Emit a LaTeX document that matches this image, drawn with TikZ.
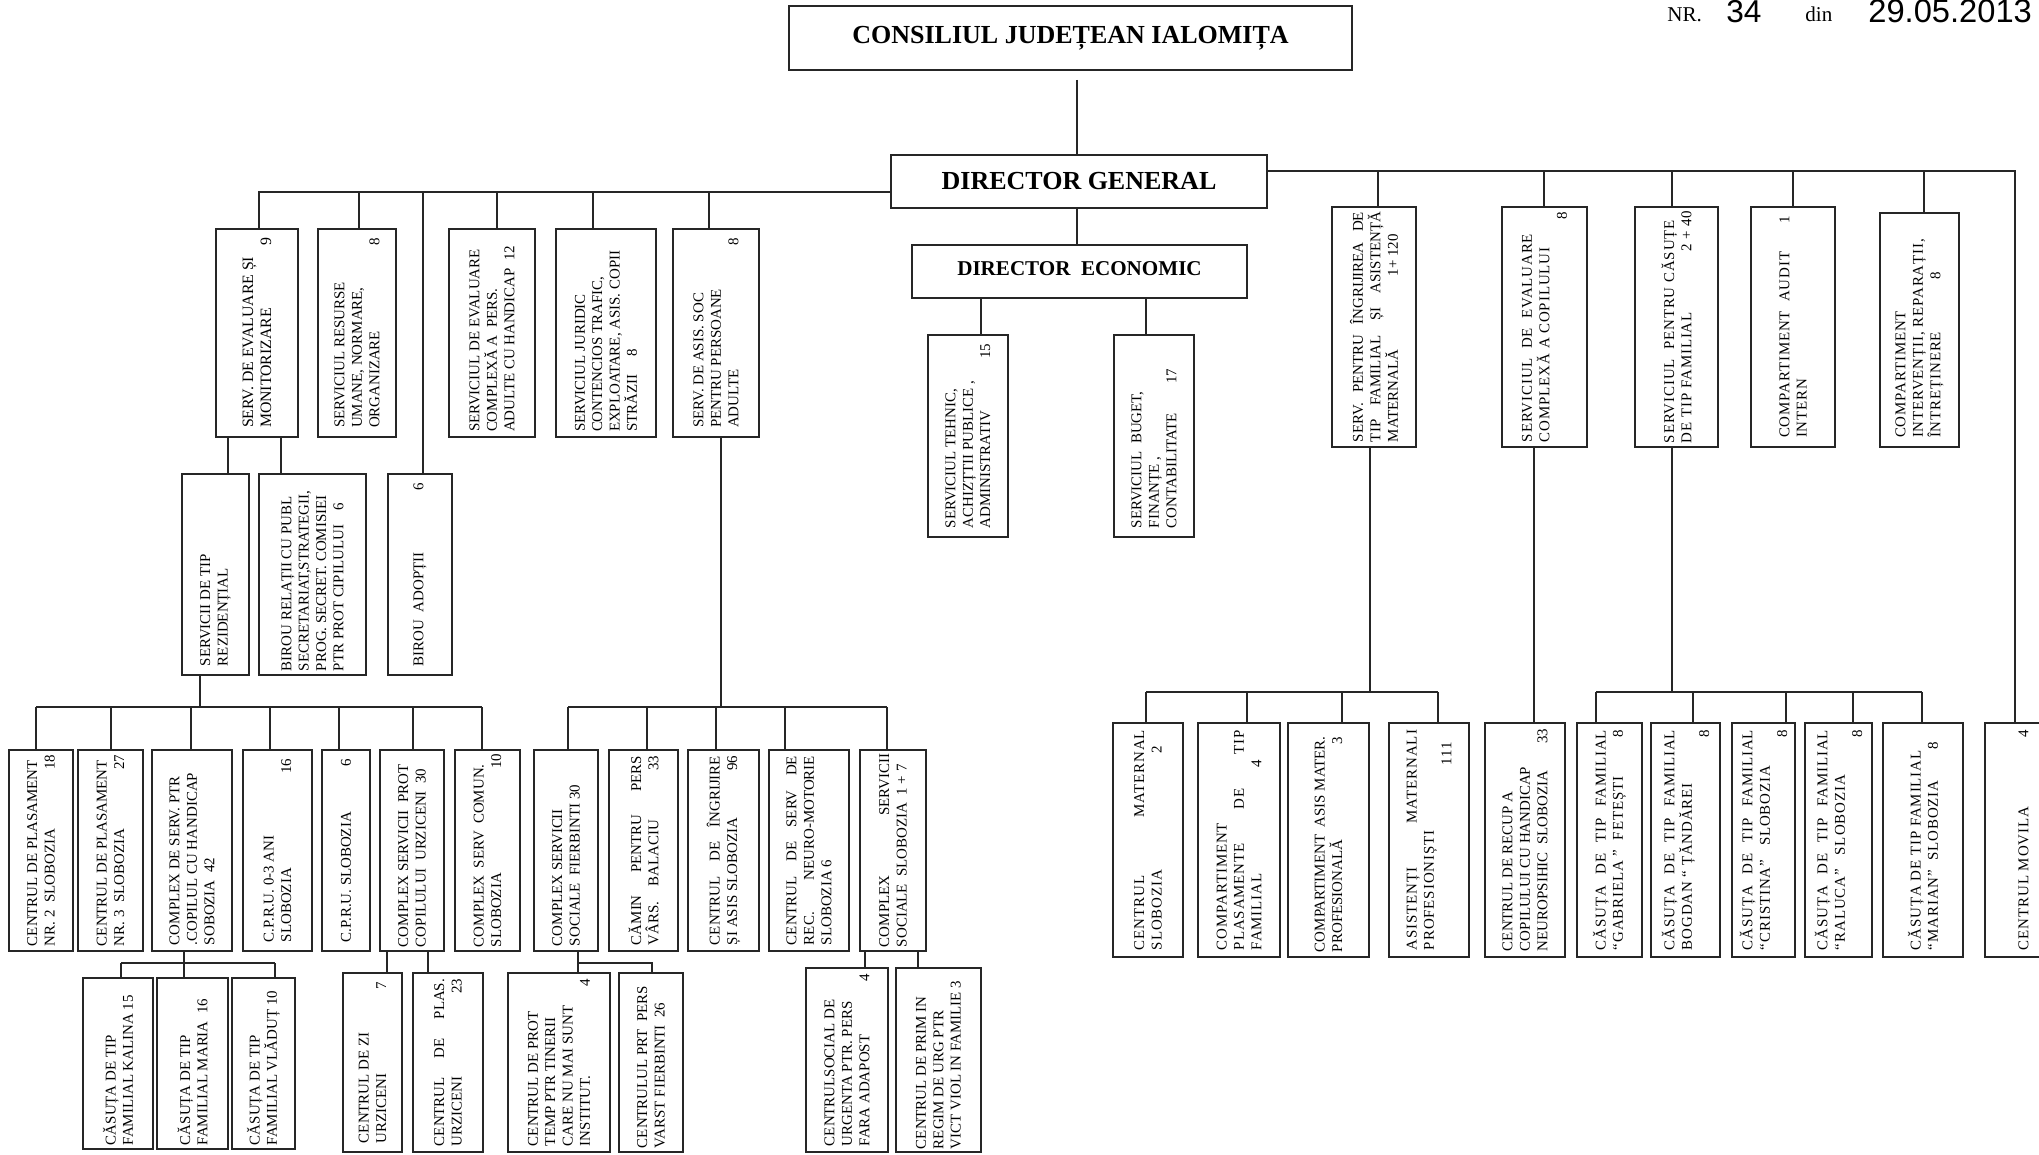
\documentclass[tikz,border=0pt]{standalone}
\usepackage{fontspec}
\usepackage{graphicx}
\setmainfont{Liberation Serif}
\setsansfont{Liberation Sans}
\newfontfamily\lsp[LetterSpace=6]{Liberation Serif}
\tikzset{
  box/.style={draw=black!85, line width=1.1pt, inner sep=0pt, outer sep=0pt, font=\fontsize{8.5}{9.9}\selectfont},
  tbox/.style={draw=black!85, line width=1.1pt, inner sep=0pt, outer sep=0pt, font=\bfseries\fontsize{14.8}{17}\selectfont},
  conn/.style={draw=black!85, line width=1.1pt},
  hdr/.style={anchor=base west, inner sep=0pt}
}
\newcommand\bx[7][9]{%
  \pgfmathsetlengthmacro\bxtw{(#6-#4-2*#1)*0.02cm}%
  \node[box, minimum width={(#5-#3)*0.02cm}, minimum height={(#6-#4)*0.02cm}] (#2) at ({(#3+#5)/2},{(#4+#6)/2}) {\rotatebox{90}{\parbox{\bxtw}{\raggedright #7}}};%
}
\begin{document}
\begin{tikzpicture}[x=0.02cm,y=-0.02cm]
\fill[white] (0,0) rectangle (2039,1155);
\useasboundingbox (0,0) rectangle (2039,1155);

% header
\node[hdr, font=\fontsize{12}{12}\selectfont] (nr) at (1667,22) {NR.};
\node[hdr, font=\sffamily\fontsize{18}{18}\selectfont] (nrv) at (1726,23) {34};
\node[hdr, font=\fontsize{12}{12}\selectfont] (din) at (1805,22) {din};
\node[hdr, font=\sffamily\fontsize{18.6}{18}\selectfont] (dt) at (1868,23) {29.05.2013};

% top boxes
\node[tbox, minimum width={563*0.02cm}, minimum height={64*0.02cm}] (cj) at (1070.5,38) {\raisebox{2pt}{CONSILIUL JUDEȚEAN IALOMIȚA}};
\node[tbox, minimum width={376*0.02cm}, minimum height={53*0.02cm}] (dg) at (1079,181.5) {DIRECTOR GENERAL};
\node[tbox, font=\bfseries\fontsize{12}{14}\selectfont, minimum width={335*0.02cm}, minimum height={53*0.02cm}] (de) at (1079.5,271.5) {\raisebox{3pt}{DIRECTOR\ \ ECONOMIC}};

% row 2 left
\bx{a1}{216}{229}{298}{437}{\fontsize{9}{10.2}\selectfont SERV. DE EVALUARE ȘI\\MONITORIZARE\hfill 9}
\bx{a2}{318}{229}{396}{437}{SERVICIUL RESURSE\\UMANE, NORMARE,\\ORGANIZARE\hfill 8}
\bx[5]{a3}{449}{229}{535}{437}{SERVICIUL DE EVALUARE\\COMPLEXĂ A\ \ PERS.\\ADULTE CU HANDICAP\ \ 12}
\bx[5]{a4}{556}{229}{656}{437}{SERVICIUL JURIDIC\\CONTENCIOS TRAFIC,\\EXPLOATARE, ASIS. COPII\\STRĂZII\quad\ 8}
\bx{a5}{673}{229}{759}{437}{SERV. DE ASIS. SOC\\PENTRU PERSOANE\\ADULTE\hfill 8}

% row 3 left
\bx{b1}{182}{474}{249}{675}{SERVICII DE TIP\\REZIDENȚIAL}
\bx[4]{b2}{259}{474}{366}{675}{BIROU RELAȚII CU PUBL\\SECRETARIAT,STRATEGII,\\PROG. SECRET. COMISIEI\\PTR PROT CIPILULUI\quad 6}
\bx{b3}{388}{474}{452}{675}{BIROU\ \ ADOPȚII\hfill 6}

% economic
\bx{c1}{928}{335}{1008}{537}{SERVICIUL TEHNIC,\\ACHIZȚTII PUBLICE ,\\ADMINISTRATIV\hfill 15}
\bx{c2}{1114}{335}{1194}{537}{SERVICIUL\ \ BUGET,\\FINANȚE ,\\CONTABILITATE\hspace{2em}17}

% row 2 right
\bx[5]{d1}{1332}{207}{1416}{447}{SERV.\hfill PENTRU\hfill ÎNGRIJIREA\hfill DE\\TIP\hfill FAMILIAL\hfill ȘI\hfill ASISTENȚĂ\\MATERNALĂ\hfill 1+ 120\hspace*{1.5em}}
\bx[5]{d2}{1502}{207}{1587}{447}{\lsp SERVICIUL\ \ DE\ \ EVALUARE\\COMPLEXĂ A COPILULUI\\\mbox{}\hfill 8}
\bx[4]{d3}{1635}{207}{1718}{447}{\lsp SERVICIUL\ \ PENTRU CĂSUȚE\\DE TIP FAMILIAL\hfill 2 + 40}
\bx{d4}{1751}{207}{1835}{447}{\lsp COMPARTIMENT\ \ AUDIT\hfill 1\\INTERN}
\bx{d5}{1880}{213}{1959}{447}{\lsp COMPARTIMENT\\INTERVENȚII, REPARAȚII,\\ÎNTREȚINERE\hspace{3.5em}8}

% bottom row left
\bx[5]{e1}{9}{750}{73}{951}{CENTRUL DE PLASAMENT\\NR. 2\ \ SLOBOZIA\hfill 18}
\bx[5]{e2}{78}{750}{143}{951}{CENTRUL DE PLASAMENT\\NR. 3\ \ SLOBOZIA\hfill 27}
\bx[6]{e3}{152}{750}{232}{951}{COMPLEX DE SERV. PTR\\.COPILUL CU HANDICAP\\SOBOZIA\ \ 42}
\bx{e4}{243}{750}{312}{951}{C.P.R.U. 0-3 ANI\\SLOBOZIA\hfill 16}
\bx{e5}{322}{750}{370}{951}{C.P.R.U. SLOBOZIA\hfill 6}
\bx[4]{e6}{380}{750}{444}{951}{COMPLEX SERVICII\ \ PROT\\COPILULUI\ \ URZICENI\ \ 30}
\bx[4]{e7}{455}{750}{520}{951}{COMPLEX\ \ SERV\ \ COMUN.\\SLOBOZIA\hfill 10}

\bx[4]{f1}{83}{978}{153}{1149}{CĂSUȚA DE TIP\\FAMILIAL KALINA 15}
\bx[4]{f2}{157}{978}{228}{1149}{CĂSUȚA DE TIP\\FAMILIAL MARIA\ \ 16}
\bx[4]{f3}{232}{978}{295}{1149}{CĂSUȚA DE TIP\\FAMILIAL VLĂDUȚ 10}
\bx{f4}{343}{973}{402}{1152}{CENTRUL DE ZI\\URZICENI\hfill 7}
\bx[6]{f5}{413}{973}{483}{1152}{CENTRUL\hfill DE\hfill PLAS.\\URZICENI\hfill 23}

% bottom row middle
\bx[5]{g1}{534}{750}{598}{951}{COMPLEX SERVICII\\SOCIALE\ \ FIERBINTI 30}
\bx[6]{g2}{609}{750}{678}{951}{CĂMIN\hfill PENTRU\hfill PERS\\VÂRS.\quad BALACIU\hfill 33}
\bx[6]{g3}{688}{750}{759}{951}{CENTRUL\hfill DE\hfill ÎNGRIJIRE\\ȘI ASIS SLOBOZIA\hfill 96}
\bx[6]{g4}{769}{750}{849}{951}{CENTRUL\hfill DE\hfill SERV\hfill DE\\REC.\hfill NEURO-MOTORIE\\SLOBOZIA 6}
\bx[4]{g5}{860}{750}{926}{951}{COMPLEX\hfill SERVICII\\SOCIALE\ \ SLOBOZIA\ \ 1 + 7}

\bx[6]{h1}{508}{973}{610}{1152}{CENTRUL DE PROT\\TEMP PTR TINERII\\CARE NU MAI SUNT\\INSTITUT.\hfill 4}
\bx[4]{h2}{619}{973}{683}{1152}{CENTRULUL PRT\ \ PERS\\VARST FIERBINTI\ \ 26}
\bx[6]{h3}{806}{968}{888}{1152}{CENTRULSOCIAL DE\\URGENTA PTR. PERS\\FARA ADAPOST\hfill 4}
\bx[3]{h4}{896}{968}{981}{1152}{CENTRUL DE PRIM IN\\REGIM DE URG PTR\\VICT VIOL IN FAMILIE 3}

% bottom row right
\bx[7]{i1}{1113}{723}{1183}{957}{\lsp CENTRUL\hfill MATERNAL\\SLOBOZIA\hfill 2\hspace*{1.1em}}
\bx[7]{i2}{1198}{723}{1280}{957}{\lsp COMPARTIMENT\\PLASAMENTE\hfill DE\hfill TIP\\FAMILIAL\hfill 4\hspace*{2em}}
\bx[5]{i3}{1288}{723}{1369}{957}{COMPARTIMENT\ \ ASIS MATER.\\PROFESIONALĂ\hfill 3\hspace*{0.6em}}
\bx[7]{i4}{1389}{723}{1469}{957}{\lsp ASISTENȚI\hfill MATERNALI\\PROFESIONIȘTI\\\mbox{}\hfill 111\hspace*{0.8em}}
\bx[6]{i5}{1485}{723}{1565}{957}{CENTRUL DE RECUP A\\COPILULUI CU HANDICAP\\NEUROPSIHIC\ \ SLOBOZIA\hfill 33}
\bx[7]{i6}{1577}{723}{1642}{957}{\lsp CĂSUȚA\hfill DE\hfill TIP\hfill FAMILIAL\\“GABRIELA ”\ \ FETEȘTI\hfill 8}
\bx[7]{i7}{1651}{723}{1720}{957}{\lsp CĂSUȚA\hfill DE\hfill TIP\hfill FAMILIAL\\BOGDAN “ ȚĂNDĂREI\\\mbox{}\hfill 8}
\bx[7]{i8}{1732}{723}{1795}{957}{\lsp CĂSUȚA\hfill DE\hfill TIP\hfill FAMILIAL\\“CRISTINA”\ \ \ SLOBOZIA\\\mbox{}\hfill 8}
\bx[7]{i9}{1805}{723}{1872}{957}{\lsp CĂSUȚA\hfill DE\hfill TIP\hfill FAMILIAL\\“RALUCA”\ \ \ SLOBOZIA\\\mbox{}\hfill 8}
\bx[7]{i10}{1883}{723}{1963}{957}{\lsp CĂSUȚA DE TIP FAMILIAL\\“MARIAN”\ \ SLOBOZIA\hfill 8\hspace*{0.8em}}
\bx[7]{i11}{1985}{723}{2062}{957}{\lsp CENTRUL MOVILA\hfill 4}

% connectors
\draw[conn] (1077,0 |- cj.south) ++(0,10) -- (1077,0 |- dg.north);
\draw[conn] (dg.west |- 0,192) -- (259,192) -- (259,0 |- a1.north);
\foreach \x/\n in {359/a2,423/b3,497/a3,593/a4,709/a5}
  \draw[conn] (\x,192) -- (\x,0 |- \n.north);
\draw[conn] (dg.east |- 0,171) -- (2015,171) -- (2015,0 |- i11.north);
\foreach \x/\n in {1378/d1,1544/d2,1672/d3,1793/d4,1924/d5}
  \draw[conn] (\x,171) -- (\x,0 |- \n.north);
\draw[conn] (1077,0 |- dg.south) -- (1077,0 |- de.north);
\draw[conn] (981,0 |- de.south) -- (981,0 |- c1.north);
\draw[conn] (1146,0 |- de.south) -- (1146,0 |- c2.north);
\draw[conn] (228,0 |- a1.south) -- (228,0 |- b1.north);
\draw[conn] (281,0 |- a1.south) -- (281,0 |- b2.north);
% residential bus
\draw[conn] (200,0 |- b1.south) -- (200,707);
\draw[conn] (36,707) -- (482,707);
\foreach \x/\n in {36/e1,111/e2,191/e3,270/e4,339/e5,413/e6,482/e7}
  \draw[conn] (\x,707) -- (\x,0 |- \n.north);
% adult services bus
\draw[conn] (721,0 |- a5.south) -- (721,707);
\draw[conn] (568,707) -- (887,707);
\foreach \x/\n in {568/g1,647/g2,716/g3,785/g4,887/g5}
  \draw[conn] (\x,707) -- (\x,0 |- \n.north);
% e3 children
\draw[conn] (184,0 |- e3.south) -- (184,963);
\draw[conn] (121,963) -- (275,963);
\foreach \x/\n in {121/f1,184/f2,275/f3}
  \draw[conn] (\x,963) -- (\x,0 |- \n.north);
% e6 children
\draw[conn] (387,0 |- e6.south) -- (387,0 |- f4.north);
\draw[conn] (428,0 |- e6.south) -- (428,0 |- f5.north);
% g1 children
\draw[conn] (578,0 |- g1.south) -- (578,0 |- h1.north);
\draw[conn] (578,963) -- (652,963) -- (652,0 |- h2.north);
% g5 children
\draw[conn] (865,0 |- g5.south) -- (865,0 |- h3.north);
\draw[conn] (918,0 |- g5.south) -- (918,0 |- h4.north);
% d1 children
\draw[conn] (1370,0 |- d1.south) -- (1370,692);
\draw[conn] (1146,692) -- (1438,692);
\foreach \x/\n in {1146/i1,1247/i2,1342/i3,1438/i4}
  \draw[conn] (\x,692) -- (\x,0 |- \n.north);
% d2 child
\draw[conn] (1534,0 |- d2.south) -- (1534,0 |- i5.north);
% d3 children
\draw[conn] (1672,0 |- d3.south) -- (1672,692);
\draw[conn] (1596,692) -- (1922,692);
\foreach \x/\n in {1596/i6,1693/i7,1786/i8,1853/i9,1922/i10}
  \draw[conn] (\x,692) -- (\x,0 |- \n.north);
\end{tikzpicture}
\end{document}
